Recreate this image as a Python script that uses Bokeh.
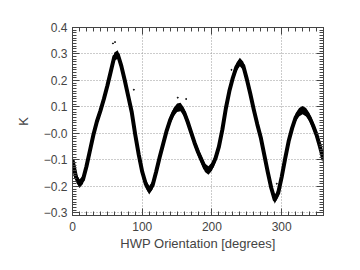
import numpy as np
from bokeh.plotting import figure
from bokeh.models import (Range1d, LinearAxis, FixedTicker, CustomJSTickFormatter,
                          ColumnDataSource)
from bokeh.embed import file_html
from bokeh.resources import INLINE

# ---- data ----
hwp_deg = list(range(0, 361, 5))
k_val = [-0.100, -0.165, -0.190, -0.175, -0.125, -0.065, -0.005, 0.045, 0.085, 0.130,
         0.180, 0.235, 0.290, 0.298, 0.255, 0.200, 0.140, 0.080, -0.005, -0.080,
         -0.145, -0.190, -0.215, -0.195, -0.145, -0.090, -0.040, 0.010, 0.050, 0.080,
         0.097, 0.100, 0.080, 0.045, 0.005, -0.035, -0.070, -0.100, -0.130, -0.140,
         -0.125, -0.095, -0.050, 0.015, 0.095, 0.160, 0.210, 0.250, 0.270, 0.255,
         0.205, 0.150, 0.090, 0.035, -0.015, -0.080, -0.145, -0.205, -0.250, -0.225,
         -0.165, -0.095, -0.030, 0.020, 0.060, 0.080, 0.088, 0.080, 0.060, 0.030,
         -0.005, -0.050, -0.100]
band_half = 0.016
outlier_x = [58, 61, 88, 151, 163, 228, 293]
outlier_y = [0.340, 0.345, 0.165, 0.135, 0.130, 0.240, -0.190]

x_tick_values = [0, 100, 200, 300]
y_tick_values = [-0.3, -0.2, -0.1, 0.0, 0.1, 0.2, 0.3, 0.4]
y_tick_labels = ["\u22120.3", "\u22120.2", "\u22120.1", "\u22120.0", "0.1", "0.2", "0.3", "0.4"]

# ---- figure ----
FONT = "Liberation Sans"
TXT = "#444444"

p = figure(width=352, height=262, output_backend="svg", toolbar_location=None,
           x_range=Range1d(0, 360), y_range=Range1d(-0.31, 0.40),
           min_border_left=72, min_border_right=29, min_border_top=27, min_border_bottom=47)
p.background_fill_color = "white"
p.border_fill_color = "white"
p.outline_line_color = TXT

xticker = FixedTicker(ticks=x_tick_values, minor_ticks=[float(v) for v in np.arange(0, 361, 10)])
yticker = FixedTicker(ticks=y_tick_values,
                      minor_ticks=[round(float(v), 2) for v in np.arange(-0.31, 0.401, 0.01)])

yfmt = CustomJSTickFormatter(args=dict(vals=y_tick_values, labs=y_tick_labels), code="""
const i = vals.findIndex(v => Math.abs(v - tick) < 1e-9);
return i >= 0 ? labs[i] : '';
""")
blank = CustomJSTickFormatter(code="return '';")

ax_bottom = p.below[0]
ax_left = p.left[0]
ax_bottom.ticker = xticker
ax_left.ticker = yticker
ax_left.formatter = yfmt

ax_top = LinearAxis(ticker=xticker, formatter=blank)
ax_right = LinearAxis(ticker=yticker, formatter=blank)
p.add_layout(ax_top, "above")
p.add_layout(ax_right, "right")

for ax in [ax_bottom, ax_left, ax_top, ax_right]:
    ax.axis_line_color = TXT
    ax.major_tick_line_color = TXT
    ax.minor_tick_line_color = TXT
    ax.major_tick_in = 7
    ax.major_tick_out = 0
    ax.minor_tick_in = 4
    ax.minor_tick_out = 0
    ax.major_label_text_font = FONT
    ax.major_label_text_font_size = "12px"
    ax.major_label_text_color = TXT
for ax in [ax_top, ax_right]:
    ax.major_label_standoff = 0

ax_bottom.major_label_standoff = 6
ax_left.major_label_standoff = 5
ax_bottom.axis_label = "HWP Orientation [degrees]"
ax_left.axis_label = "K"
for ax in [ax_bottom, ax_left]:
    ax.axis_label_text_font = FONT
    ax.axis_label_text_font_size = "13px"
    ax.axis_label_text_font_style = "normal"
    ax.axis_label_text_color = TXT
ax_bottom.axis_label_standoff = 2
ax_left.axis_label_standoff = 10

p.xgrid.ticker = xticker
p.ygrid.ticker = yticker
for g in [p.xgrid, p.ygrid]:
    g.grid_line_color = "#999999"
    g.grid_line_dash = "1 2"
    g.grid_line_width = 1

k = np.array(k_val)
src = ColumnDataSource(dict(x=hwp_deg, y=k_val, lo=list(k - band_half), hi=list(k + band_half)))
p.varea(x="x", y1="lo", y2="hi", source=src, fill_color="black")
p.line(x="x", y="y", source=src, line_color="black", line_width=4, line_join="round")
p.scatter(outlier_x, outlier_y, size=1, color="black")

open("out.html", "w").write(file_html(p, INLINE))
